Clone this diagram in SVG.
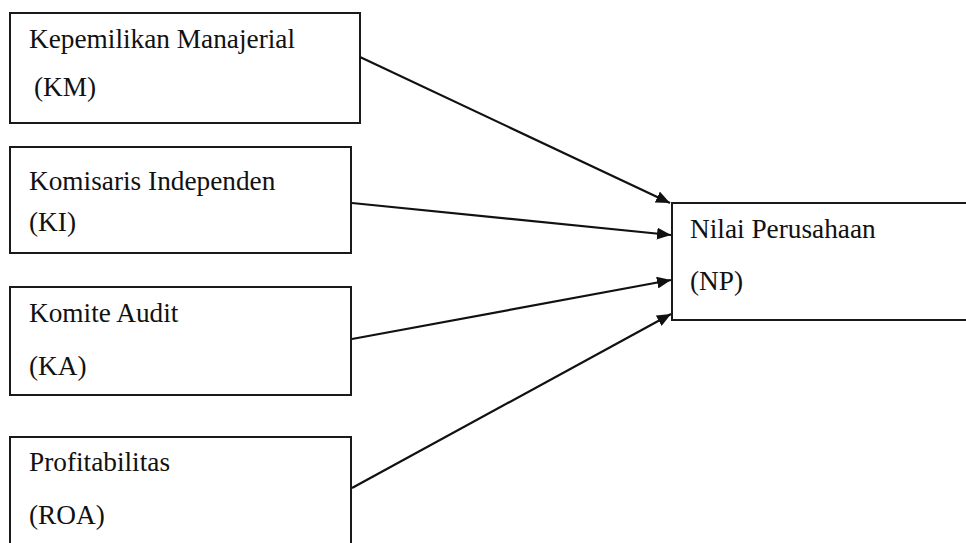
<svg xmlns="http://www.w3.org/2000/svg" width="966" height="543" viewBox="0 0 966 543">
  <style>
    .box { fill: #fff; stroke: #1a1a1a; stroke-width: 2; }
    .lbl { font-family: "Liberation Serif", "Times New Roman", serif; font-size: 27.3px; fill: #111; }
    .conn { stroke: #111; stroke-width: 2.2; fill: none; marker-end: url(#arr); }
  </style>
  <defs>
    <marker id="arr" viewBox="0 0 14 12" refX="14" refY="6" markerWidth="14" markerHeight="12" markerUnits="userSpaceOnUse" orient="auto">
      <path d="M0,0 L14,6 L0,12 Z" fill="#111"/>
    </marker>
  </defs>
  <rect width="966" height="543" fill="#fff"/>
  <g id="km">
    <rect class="box" x="10" y="13" width="350" height="110"/>
    <text class="lbl" x="29" y="48">Kepemilikan Manajerial</text>
    <text class="lbl" x="34" y="96">(KM)</text>
  </g>
  <g id="ki">
    <rect class="box" x="10" y="147" width="341" height="106"/>
    <text class="lbl" x="29" y="190">Komisaris Independen</text>
    <text class="lbl" x="29" y="231">(KI)</text>
  </g>
  <g id="ka">
    <rect class="box" x="10" y="287" width="341" height="108"/>
    <text class="lbl" x="29" y="322">Komite Audit</text>
    <text class="lbl" x="29" y="375">(KA)</text>
  </g>
  <g id="roa">
    <rect class="box" x="10" y="437" width="341" height="115"/>
    <text class="lbl" x="29" y="471">Profitabilitas</text>
    <text class="lbl" x="29" y="524">(ROA)</text>
  </g>
  <g id="np">
    <rect class="box" x="672" y="203" width="300" height="117"/>
    <text class="lbl" x="690" y="238">Nilai Perusahaan</text>
    <text class="lbl" x="690" y="290">(NP)</text>
  </g>
  <g id="connectors">
    <line class="conn" x1="360" y1="57" x2="670" y2="203"/>
    <line class="conn" x1="352" y1="203" x2="671" y2="235"/>
    <line class="conn" x1="352" y1="339" x2="671" y2="280"/>
    <line class="conn" x1="352" y1="488" x2="671" y2="314"/>
  </g>
</svg>
